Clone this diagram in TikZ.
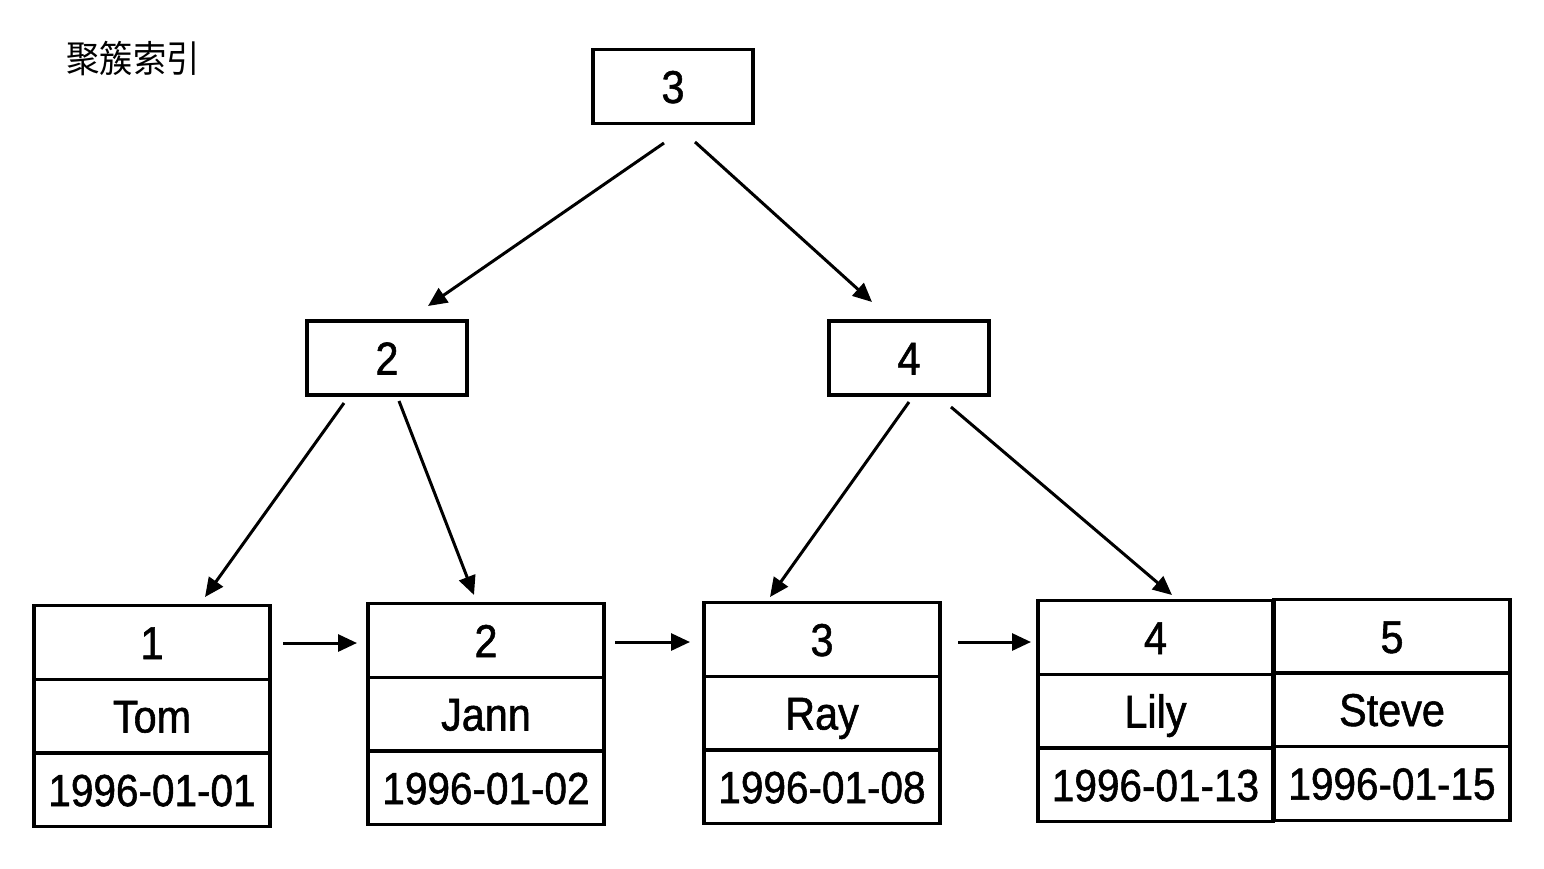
\documentclass[tikz,border=0pt]{standalone}
\usepackage{fontspec}
\setmainfont{Liberation Sans}
\newfontfamily\lab[FakeStretch=0.9,FakeBold=1.2]{Liberation Sans}
\newfontfamily\cjk[FakeStretch=0.9]{Noto Sans CJK SC}
\usetikzlibrary{arrows.meta}
\begin{document}
\begin{tikzpicture}[x=1pt,y=-1pt,
  cell/.style={draw,line width=3.2pt,inner sep=0pt,minimum width=236pt,minimum height=73.5pt,
    font=\lab\fontsize{46}{46}\selectfont,text height=33pt,text depth=0pt},
  datecell/.style={cell,font=\lab\fontsize{45}{45}\selectfont,text height=32.2pt},
  ibox/.style={draw,line width=3.2pt,inner sep=0pt,minimum width=160pt,minimum height=74pt,
    font=\lab\fontsize{46}{46}\selectfont,text height=33pt,text depth=0pt},
  conn/.style={line width=3pt,-{Triangle[length=19pt,width=17pt]}}]
\useasboundingbox (0,0) rectangle (1544,868);
\fill[white] (0,0) rectangle (1544,868);
\node[font=\cjk\fontsize{37}{37}\selectfont] (title) at (133,59) {聚簇索引};
% index nodes
\node[ibox] (top) at (673,86.5) {3};
\node[ibox] (n2) at (387,358) {2};
\node[ibox] (n4) at (909,358) {4};
% leaves
\node[cell] (l1a) at (152,642.5) {1};
\node[cell] (l1b) at (152,716) {Tom};
\node[datecell] (l1c) at (152,790) {1996-01-01};
\node[cell] (l2a) at (486,640.5) {2};
\node[cell] (l2b) at (486,714) {Jann};
\node[datecell] (l2c) at (486,788) {1996-01-02};
\node[cell] (l3a) at (822,639.5) {3};
\node[cell] (l3b) at (822,713) {Ray};
\node[datecell] (l3c) at (822,787) {1996-01-08};
\node[cell,minimum width=235pt] (l4a) at (1155.5,637.5) {4};
\node[cell,minimum width=235pt] (l4b) at (1155.5,711) {Lily};
\node[datecell,minimum width=235pt] (l4c) at (1155.5,785) {1996-01-13};
\node[cell] (l5a) at (1392,636.5) {5};
\node[cell] (l5b) at (1392,709.5) {Steve};
\node[datecell] (l5c) at (1392,783.5) {1996-01-15};
% connector ends
\coordinate (t2s) at (664,143);  \coordinate (t2e) at (428,306);
\coordinate (t4s) at (695,142);  \coordinate (t4e) at (872,302);
\coordinate (a1s) at (344,403);  \coordinate (a1e) at (205,597);
\coordinate (a2s) at (399,401);  \coordinate (a2e) at (474,595);
\coordinate (b3s) at (909,402);  \coordinate (b3e) at (770,597);
\coordinate (b4s) at (951,407);  \coordinate (b4e) at (1172,595);
\coordinate (h1s) at (283,643);  \coordinate (h1e) at (357,643);
\coordinate (h2s) at (615,642);  \coordinate (h2e) at (690,642);
\coordinate (h3s) at (958,642);  \coordinate (h3e) at (1031,642);
\draw[conn] (t2s) -- (t2e);
\draw[conn] (t4s) -- (t4e);
\draw[conn] (a1s) -- (a1e);
\draw[conn] (a2s) -- (a2e);
\draw[conn] (b3s) -- (b3e);
\draw[conn] (b4s) -- (b4e);
\draw[conn] (h1s) -- (h1e);
\draw[conn] (h2s) -- (h2e);
\draw[conn] (h3s) -- (h3e);
\end{tikzpicture}
\end{document}
